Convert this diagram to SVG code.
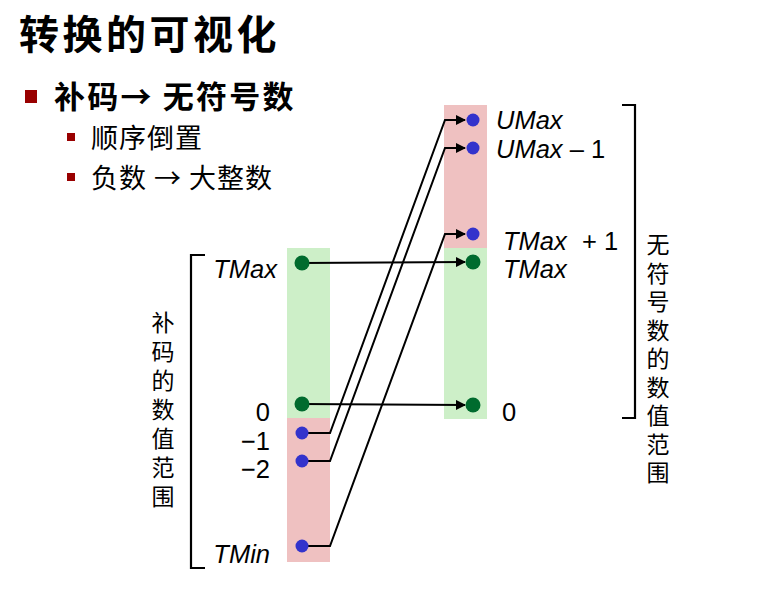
<svg xmlns="http://www.w3.org/2000/svg" width="779" height="593" viewBox="0 0 779 593">
<style>
.cjk{font-family:"Noto Sans CJK SC","Noto Sans",sans-serif;fill:#000}
.lbl{font-family:"Liberation Sans","DejaVu Sans",sans-serif;font-size:25.5px;fill:#000}
.it{font-style:italic}
.vt{font-family:"Noto Sans CJK SC",sans-serif;font-size:23px;fill:#000;writing-mode:vertical-rl}
.conn{stroke:#000;stroke-width:2;fill:none}
.bk{stroke:#000;stroke-width:2.2;fill:none}
.gd{fill:#006B2E}
.bd{fill:#3333CC}
</style>
<defs>
<marker id="ah" viewBox="0 0 10 10" refX="9" refY="5" markerWidth="5" markerHeight="5" orient="auto" markerUnits="strokeWidth">
<path d="M0,0 L10,5 L0,10 z" fill="#000"/>
</marker>
</defs>
<rect width="779" height="593" fill="#fff"/>
<g id="title">
<text class="cjk" x="19" y="49" font-size="40" font-weight="700" letter-spacing="3.5">转换的可视化</text>
</g>
<g id="bullets">
<rect x="25" y="90" width="12" height="13" fill="#990000"/>
<text class="cjk" x="54" y="108" font-size="31" font-weight="700" letter-spacing="2.2">补码→ 无符号数</text>
<rect x="67" y="133" width="8" height="8" fill="#990000"/>
<text class="cjk" x="91" y="148" font-size="27" letter-spacing="1">顺序倒置</text>
<rect x="67" y="173" width="8" height="8" fill="#990000"/>
<text class="cjk" x="91" y="188" font-size="27" letter-spacing="1">负数 → 大整数</text>
</g>
<g id="left-column">
<rect x="287" y="248" width="43" height="170" fill="#CDEFC8"/>
<rect x="287" y="418" width="43" height="144" fill="#EFC1C1"/>
</g>
<g id="right-column">
<rect x="444" y="105" width="43" height="143" fill="#EFC1C1"/>
<rect x="444" y="248" width="43" height="171" fill="#CDEFC8"/>
</g>
<g id="brackets">
<path class="bk" d="M205,255 H191 V568 H205"/>
<path class="bk" d="M622,105 H635 V418 H622"/>
</g>
<g id="connectors">
<line class="conn" x1="302" y1="263" x2="465" y2="262" marker-end="url(#ah)"/>
<line class="conn" x1="302" y1="404" x2="465" y2="405" marker-end="url(#ah)"/>
<path class="conn" d="M302,433 H330 L445,120 H465" marker-end="url(#ah)"/>
<path class="conn" d="M302,461 H330 L445,148 H465" marker-end="url(#ah)"/>
<path class="conn" d="M302,546 H330 L445,234 H465" marker-end="url(#ah)"/>
</g>
<g id="left-nodes">
<circle class="gd" cx="302" cy="263" r="7.5"/>
<circle class="gd" cx="302" cy="404" r="7.5"/>
<circle class="bd" cx="302" cy="433" r="6.5"/>
<circle class="bd" cx="302" cy="461" r="6.5"/>
<circle class="bd" cx="302" cy="546" r="6.5"/>
</g>
<g id="right-nodes">
<circle class="bd" cx="473" cy="120" r="6.5"/>
<circle class="bd" cx="473" cy="148" r="6.5"/>
<circle class="bd" cx="473" cy="234" r="6.5"/>
<circle class="gd" cx="473" cy="262" r="7.5"/>
<circle class="gd" cx="473" cy="405" r="7.5"/>
</g>
<g id="left-labels">
<text class="lbl it" x="277" y="278" text-anchor="end">TMax</text>
<text class="lbl" x="270" y="421" text-anchor="end">0</text>
<text class="lbl" x="270" y="450" text-anchor="end">−1</text>
<text class="lbl" x="270" y="478" text-anchor="end">−2</text>
<text class="lbl it" x="270" y="563" text-anchor="end">TMin</text>
</g>
<g id="right-labels">
<text class="lbl" x="496" y="129"><tspan class="it">UMax</tspan></text>
<text class="lbl" x="496" y="158"><tspan class="it">UMax</tspan> – 1</text>
<text class="lbl" x="503" y="250"><tspan class="it">TMax</tspan><tspan x="582">+ 1</tspan></text>
<text class="lbl it" x="503" y="278">TMax</text>
<text class="lbl" x="502" y="421">0</text>
</g>
<g id="left-vertical">
<text class="vt" x="163" y="311" letter-spacing="6">补码的数值范围</text>
</g>
<g id="right-vertical">
<text class="vt" x="658" y="233" letter-spacing="5.5">无符号数的数值范围</text>
</g>
</svg>
